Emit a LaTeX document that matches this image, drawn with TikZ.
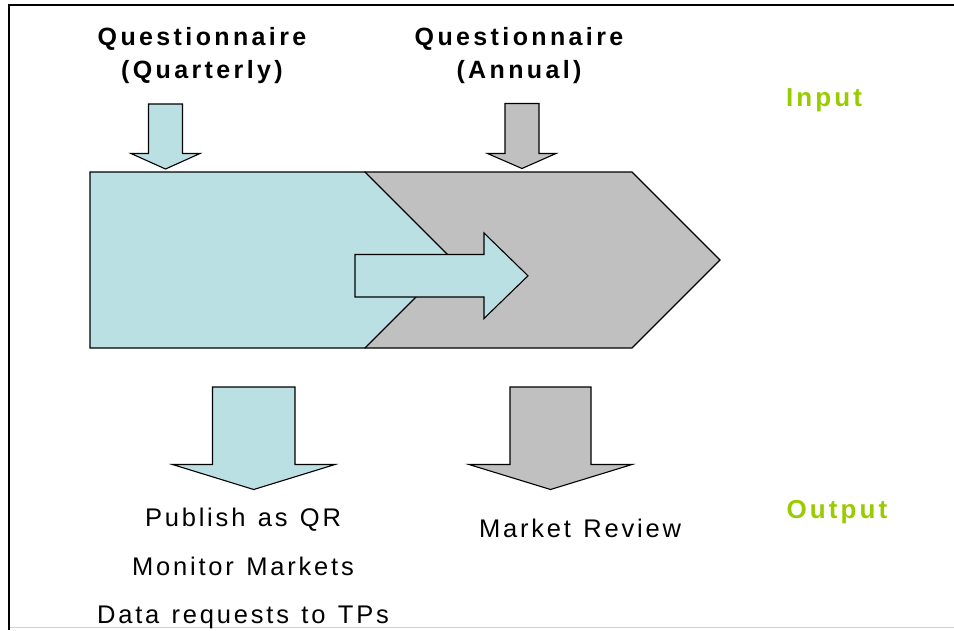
\documentclass[tikz,border=0pt]{standalone}
\usepackage{fontspec}
\setmainfont{Liberation Sans}
\newfontfamily\labelfont[LetterSpace=11, WordSpace=1.25]{Liberation Sans}
\newfontfamily\headfont[LetterSpace=13.5]{Liberation Sans Bold}
\newfontfamily\tagfont[LetterSpace=12]{Liberation Sans Bold}

\definecolor{quartblue}{HTML}{BBE0E3}
\definecolor{annualgray}{HTML}{C0C0C0}
\definecolor{tagreen}{HTML}{99CC00}

\tikzset{
  blockblue/.style={draw=black, line width=1.1pt, fill=quartblue, line join=miter},
  blockgray/.style={draw=black, line width=1.1pt, fill=annualgray, line join=miter},
  headtext/.style={font=\headfont\fontsize{25}{32.3}\selectfont, align=center, anchor=base},
  tagtext/.style={font=\tagfont\fontsize{26}{30}\selectfont, text=tagreen, anchor=base},
  outtext/.style={font=\labelfont\fontsize{25.5}{48.2}\selectfont, align=center, anchor=base}
}

\begin{document}
\begin{tikzpicture}[x=1pt, y=-1pt]%
   \useasboundingbox (0,0) rectangle (954,630);
   % frame
   \draw[line width=2.4pt] (9,630) -- (9,5.2) -- (954,5.2);
   \draw[line width=1.2pt, black!18] (10,627.8) -- (954,627.8);
   % annual chevron, quarterly block on top of it
   \draw[blockgray] (365,172) -- (632,172) -- (720,260) -- (632,348) -- (365,348) -- cycle;
   \draw[blockblue] (90,172) -- (365,172) -- (453,260) -- (365,348) -- (90,348) -- cycle;
   \draw[blockblue] (355,254.5) -- (484,254.5) -- (484,233) -- (528,275.8) -- (484,318.5)
      -- (484,297) -- (355,297) -- cycle;
   % input arrows
   \draw[blockblue] (148.5,104) -- (182.5,104) -- (182.5,153.5) -- (200,153.5) -- (165.5,169)
      -- (131,153.5) -- (148.5,153.5) -- cycle;
   \draw[blockgray] (505,103.5) -- (539,103.5) -- (539,153.5) -- (556,153.5) -- (522,168.5)
      -- (487.5,153.5) -- (505,153.5) -- cycle;
   % output arrows
   \draw[blockblue] (212.5,387) -- (295,387) -- (295,464.5) -- (335,464.5) -- (253.7,489.5)
      -- (172.5,464.5) -- (212.5,464.5) -- cycle;
   \draw[blockgray] (510,387) -- (591,387) -- (591,464.5) -- (632,464.5) -- (550.5,489.5)
      -- (469,464.5) -- (510,464.5) -- cycle;
   % labels (base = baseline of the last line)
   \node[headtext] (qquart) at (202,78) {Questionnaire\\(Quarterly)};
   \node[headtext] (qannual) at (519,78) {Questionnaire\\(Annual)};
   \node[tagtext] (input) at (824,106) {Input};
   \node[tagtext] (output) at (837,518) {Output};
   \node[outtext] (qrout) at (243,623.3) {Publish as QR\\Monitor Markets\\Data requests to TPs};
   \node[outtext] (mrout) at (580,537.7) {Market Review};
\end{tikzpicture}
\end{document}
